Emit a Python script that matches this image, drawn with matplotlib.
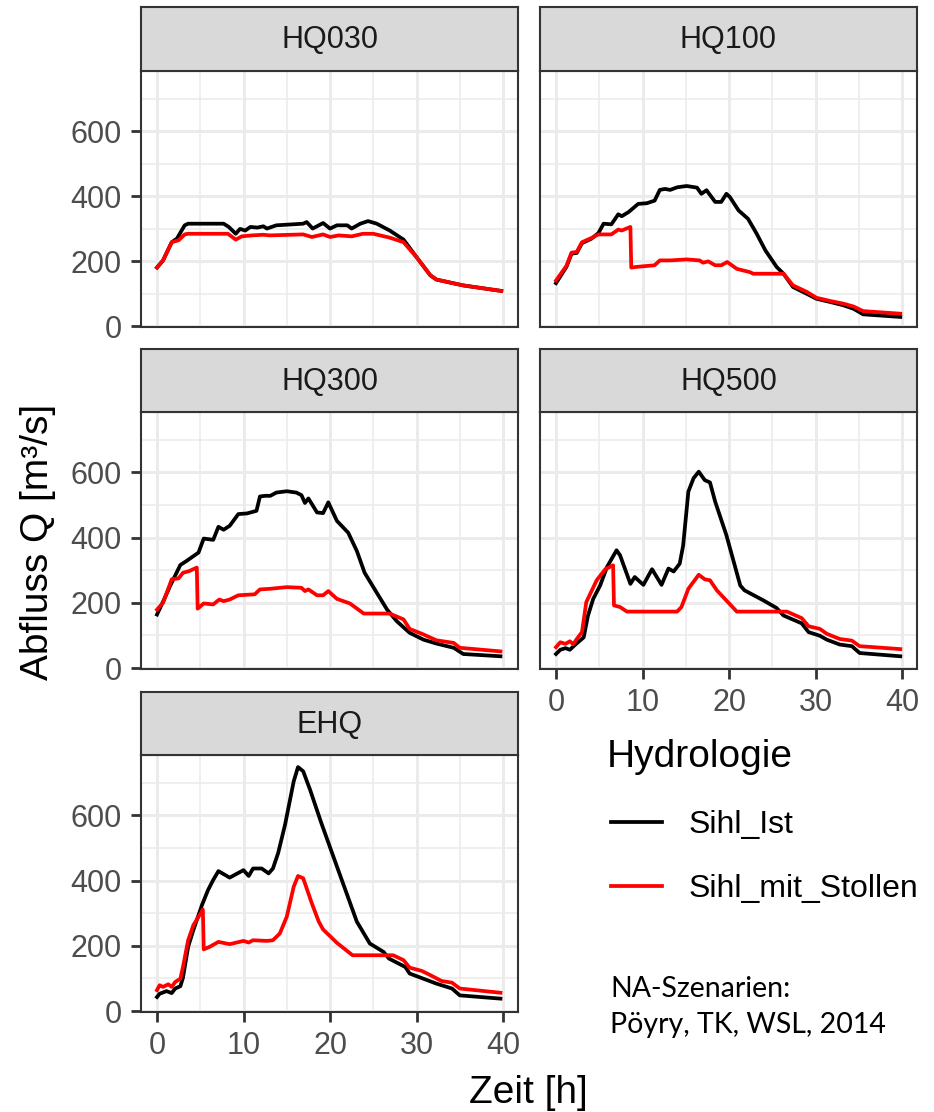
import matplotlib
matplotlib.use("Agg")
import matplotlib.pyplot as plt
from matplotlib.lines import Line2D
from matplotlib.ticker import MultipleLocator

plt.rcParams['font.family'] = ['Liberation Sans', 'DejaVu Sans']

# Hydrographs, (time [h], discharge [m3/s])
hq030_t_ist = [0, 0.7, 1.7, 2.3, 3.2, 3.6, 7.7, 8.3, 9.1, 9.6, 10.2, 10.8, 11.6, 12.3, 12.7, 13.8,
               16.9, 17.3, 18, 19.2, 20, 20.8, 22, 22.5, 23.5, 24.4, 25.4, 26.9, 28.5, 30, 31.6,
               32.3, 35.4, 39.8]
hq030_q_ist = [180, 202, 258, 269, 310, 315, 315, 305, 284, 299, 294, 305, 303, 307, 300, 310,
               315, 320, 300, 317, 300, 310, 310, 300, 315, 323, 315, 294, 266, 212, 156,
               143, 125, 108]
hq030_t_st = [0, 0.7, 1.7, 2.5, 3.2, 3.6, 8.2, 9.1, 9.8, 11, 12.3, 13, 16.9, 17.9, 19.2, 20, 21,
              22.5, 23.8, 25, 26.9, 28.5, 30, 31.6, 32.3, 35.4, 39.8]
hq030_q_st = [180, 202, 258, 264, 282, 284, 284, 266, 276, 279, 281, 279, 282, 274, 282, 274, 279,
              276, 284, 284, 272, 258, 212, 156, 143, 125, 108]

hq100_t_ist = [0, 1.2, 1.8, 2.4, 3, 4.1, 4.9, 5.5, 6.4, 7.2, 7.6, 8.4, 9.5, 10.5, 11.4, 12, 12.6,
               13.2, 14, 15.1, 16.3, 16.8, 17.4, 18.4, 19.1, 19.7, 20.1, 21.1, 22.2, 23.2, 24.2,
               25.5, 26.3, 27.4, 29, 30.1, 31.7, 33.2, 34.4, 35.5, 39.8]
hq100_q_ist = [132, 182, 223, 225, 255, 269, 286, 315, 313, 344, 338, 351, 376, 378, 386, 419, 422,
               419, 427, 431, 426, 407, 418, 382, 382, 407, 397, 356, 330, 284, 233,
               182, 161, 120, 99, 84, 74, 64, 53, 36, 28]
hq100_t_st = [0, 1.2, 1.8, 2.4, 3, 4.1, 4.9, 6.4, 7.2, 7.6, 8.6, 8.7, 9.3, 11.4, 12, 13.2, 15.1,
              16.6, 17, 17.6, 18.4, 19.1, 19.8, 20.9, 22.4, 22.8, 26.3, 27.4, 29, 30.1, 31.7,
              33.2, 34.4, 35.5, 39.8]
hq100_q_st = [140, 185, 226, 228, 258, 271, 282, 282, 297, 294, 305, 180, 182, 187, 202, 202, 205,
              202, 195, 199, 187, 187, 197, 176, 166, 161, 161, 125, 105, 87, 77,
              69, 60, 46, 38]

hq300_t_ist = [0, 0.9, 1.5, 2.7, 3.4, 4.8, 5.4, 6.5, 7.1, 7.7, 8.4, 9.4, 10.4, 11.5, 11.9, 12.5,
               13.1, 13.8, 15, 16.1, 16.7, 17.1, 17.5, 18.5, 19.2, 19.8, 20.8, 22.1, 23.1, 24,
               25.4, 26.6, 27.7, 29.2, 30.8, 32.3, 34.3, 35.4, 39.7]
hq300_q_ist = [164, 215, 251, 316, 328, 354, 397, 393, 433, 424, 436, 472, 474, 482, 526, 528,
               528, 538, 542, 538, 530, 506, 520, 477, 475, 508, 451, 415, 359, 292,
               231, 179, 144, 108, 87, 75, 62, 43, 36]
hq300_t_st = [0, 0.7, 1.7, 2.5, 3, 3.7, 4.6, 4.7, 5.4, 6.5, 7.2, 7.7, 8.4, 9.4, 11.3, 11.9, 13.1,
              15, 16.7, 17.1, 17.5, 18.5, 19.2, 19.8, 20.8, 22.3, 23.9, 26.9, 28.5, 29.2, 30.8,
              32.3, 34.3, 35, 39.7]
hq300_q_st = [179, 200, 272, 275, 292, 297, 308, 182, 198, 195, 210, 205, 210, 223, 226, 241, 243,
              248, 246, 236, 241, 223, 223, 236, 212, 198, 167, 167, 149, 120, 103,
              85, 77, 62, 51]

hq500_t_ist = [0, 0.5, 1.1, 1.6, 2.2, 3.2, 3.7, 4.3, 5.1, 5.9, 7, 7.4, 8.6, 9.1, 10.1, 11.1, 12.2,
               13, 13.6, 14.3, 14.7, 15.3, 15.9, 16.5, 17.2, 17.8, 18.4, 19.7, 21.3, 21.8, 24,
               25.5, 26.3, 28.4, 29.2, 30.5, 31.3, 32.8, 34.2, 35.1, 39.8]
hq500_q_ist = [43, 56, 61, 56, 71, 94, 161, 212, 253, 310, 361, 346, 258, 279, 255, 303, 255,
               305, 296, 320, 376, 541, 582, 602, 576, 569, 510, 407, 253, 238, 207,
               184, 161, 137, 110, 99, 87, 72, 67, 46, 36]
hq500_t_st = [0, 0.5, 1.1, 1.6, 2, 2.4, 3, 3.5, 4.7, 5.7, 6.6, 6.7, 7.4, 8.2, 14, 14.5, 15.3, 16.5,
              17.2, 17.8, 18.6, 20.9, 26.7, 28.4, 29.2, 30.5, 31.3, 32.8, 34.2, 35.1, 39.8]
hq500_q_st = [64, 79, 74, 82, 73, 89, 110, 202, 269, 303, 315, 192, 187, 173, 173, 187, 243, 286,
              272, 269, 238, 173, 173, 153, 128, 120, 105, 89, 84, 67, 58]

ehq_t_ist = [0, 0.3, 1.1, 1.7, 2.1, 2.7, 3, 3.6, 4.2, 5.2, 5.9, 6.5, 7.1, 8.4, 10, 10.6, 11.1,
             12.1, 12.9, 13.4, 14, 14.8, 15.8, 16.3, 16.9, 17.7, 19, 20.8, 23.1, 24.6, 26.2,
             26.8, 28.7, 29.2, 30.8, 32.3, 34.1, 35, 39.7]
ehq_q_ist = [43, 53, 61, 55, 69, 76, 102, 197, 248, 325, 371, 402, 429, 409, 432, 414, 437,
             437, 422, 437, 484, 571, 704, 748, 735, 678, 576, 443, 274, 207, 181,
             161, 135, 115, 99, 84, 69, 48, 38]
ehq_t_st = [0, 0.3, 0.7, 1.3, 1.7, 2.1, 2.7, 3, 3.6, 4.2, 5.3, 5.4, 6.1, 7.1, 8.4, 10, 10.6, 11.1,
            12.7, 13.4, 14.2, 15, 15.8, 16.3, 16.9, 17.9, 18.7, 19.2, 20.8, 22.6, 27.3, 28.5,
            29.2, 30.6, 31.6, 32.9, 34.1, 35, 39.7]
ehq_q_st = [64, 79, 74, 82, 74, 89, 99, 135, 217, 263, 311, 189, 197, 212, 205, 215, 210, 217,
            215, 217, 238, 289, 381, 414, 407, 330, 274, 250, 209, 171, 171, 156,
            133, 123, 110, 92, 87, 69, 56]

scenarios = ['HQ030', 'HQ100', 'HQ300', 'HQ500', 'EHQ']
series_names = ['Sihl_Ist', 'Sihl_mit_Stollen']
series_colors = ['black', '#FF0000']

curves = {
    'HQ030': [(hq030_t_ist, hq030_q_ist), (hq030_t_st, hq030_q_st)],
    'HQ100': [(hq100_t_ist, hq100_q_ist), (hq100_t_st, hq100_q_st)],
    'HQ300': [(hq300_t_ist, hq300_q_ist), (hq300_t_st, hq300_q_st)],
    'HQ500': [(hq500_t_ist, hq500_q_ist), (hq500_t_st, hq500_q_st)],
    'EHQ': [(ehq_t_ist, ehq_q_ist), (ehq_t_st, ehq_q_st)],
}

W, H = 934, 1112
LW = 2.7
fig = plt.figure(figsize=(W / 100, H / 100), dpi=100)

# panel boxes in pixels: (left, right), (strip top, panel top, panel bottom)
cols = [(141, 518), (540, 917)]
rows = [(7, 71, 327), (349, 412, 669), (692, 755, 1012)]
grid_pos = {'HQ030': (0, 0), 'HQ100': (0, 1), 'HQ300': (1, 0), 'HQ500': (1, 1), 'EHQ': (2, 0)}
bottom_axis = {'HQ500', 'EHQ'}
left_axis = {'HQ030', 'HQ300', 'EHQ'}

dark = '#333333'
for name in scenarios:
    r, c = grid_pos[name]
    x0, x1 = cols[c]
    st, pt, pb = rows[r]
    ax = fig.add_axes([x0 / W, 1 - pb / H, (x1 - x0) / W, (pb - pt) / H])
    sax = fig.add_axes([x0 / W, 1 - pt / H, (x1 - x0) / W, (pt - st) / H])

    for (t, q), col in zip(curves[name], series_colors):
        ax.plot(t, q, color=col, lw=LW, solid_joinstyle='round')

    ax.set_xlim(-1.85, 41.73)
    ax.set_ylim(-3, 785)
    ax.xaxis.set_major_locator(MultipleLocator(10))
    ax.xaxis.set_minor_locator(MultipleLocator(5))
    ax.yaxis.set_major_locator(MultipleLocator(200))
    ax.yaxis.set_minor_locator(MultipleLocator(100))
    ax.set_axisbelow(True)
    ax.grid(which='major', color='#EBEBEB', lw=2.1)
    ax.grid(which='minor', color='#EBEBEB', lw=1.1)
    for s in ax.spines.values():
        s.set_color(dark)
        s.set_linewidth(1.5)
    ax.tick_params(which='minor', length=0)
    ax.tick_params(which='major', length=7, width=2, color=dark, labelcolor='#4D4D4D',
                   labelsize=22, pad=7)
    if name not in bottom_axis:
        ax.tick_params(axis='x', which='major', length=0, labelbottom=False)
    if name not in left_axis:
        ax.tick_params(axis='y', which='major', length=0, labelleft=False)

    sax.set_facecolor('#D9D9D9')
    sax.set_xticks([])
    sax.set_yticks([])
    for s in sax.spines.values():
        s.set_color(dark)
        s.set_linewidth(1.5)
    sax.text(0.5, 0.48, name, transform=sax.transAxes, ha='center', va='center',
             fontsize=22, color='#1A1A1A')

# axis titles
fig.text(38 / W, 1 - 542 / H, 'Abfluss Q [m³/s]', rotation=90, ha='center', va='center',
         fontsize=28, color='black')
fig.text(528 / W, 1 - 1103 / H, 'Zeit [h]', ha='center', va='baseline', fontsize=28,
         color='black')

# legend (title, keys and labels)
fig.text(607 / W, 1 - 767 / H, 'Hydrologie', fontsize=28, va='baseline', color='black')
for name, col, key_y, text_y in zip(series_names, series_colors, [822, 886], [833, 897]):
    fig.add_artist(Line2D([611 / W, 662 / W], [1 - key_y / H, 1 - key_y / H], color=col,
                          lw=LW, transform=fig.transFigure))
    fig.text(689 / W, 1 - text_y / H, name, fontsize=23, va='baseline', color='black')

# source note
fig.text(610 / W, 1 - 997 / H, 'NA-Szenarien:', fontsize=20.5, family=['Lato', 'DejaVu Sans'],
         va='baseline', color='black')
fig.text(610 / W, 1 - 1033 / H, 'Pöyry, TK, WSL, 2014', fontsize=20.5,
         family=['Lato', 'DejaVu Sans'], va='baseline', color='black')

fig.savefig('out.png', dpi=100)
